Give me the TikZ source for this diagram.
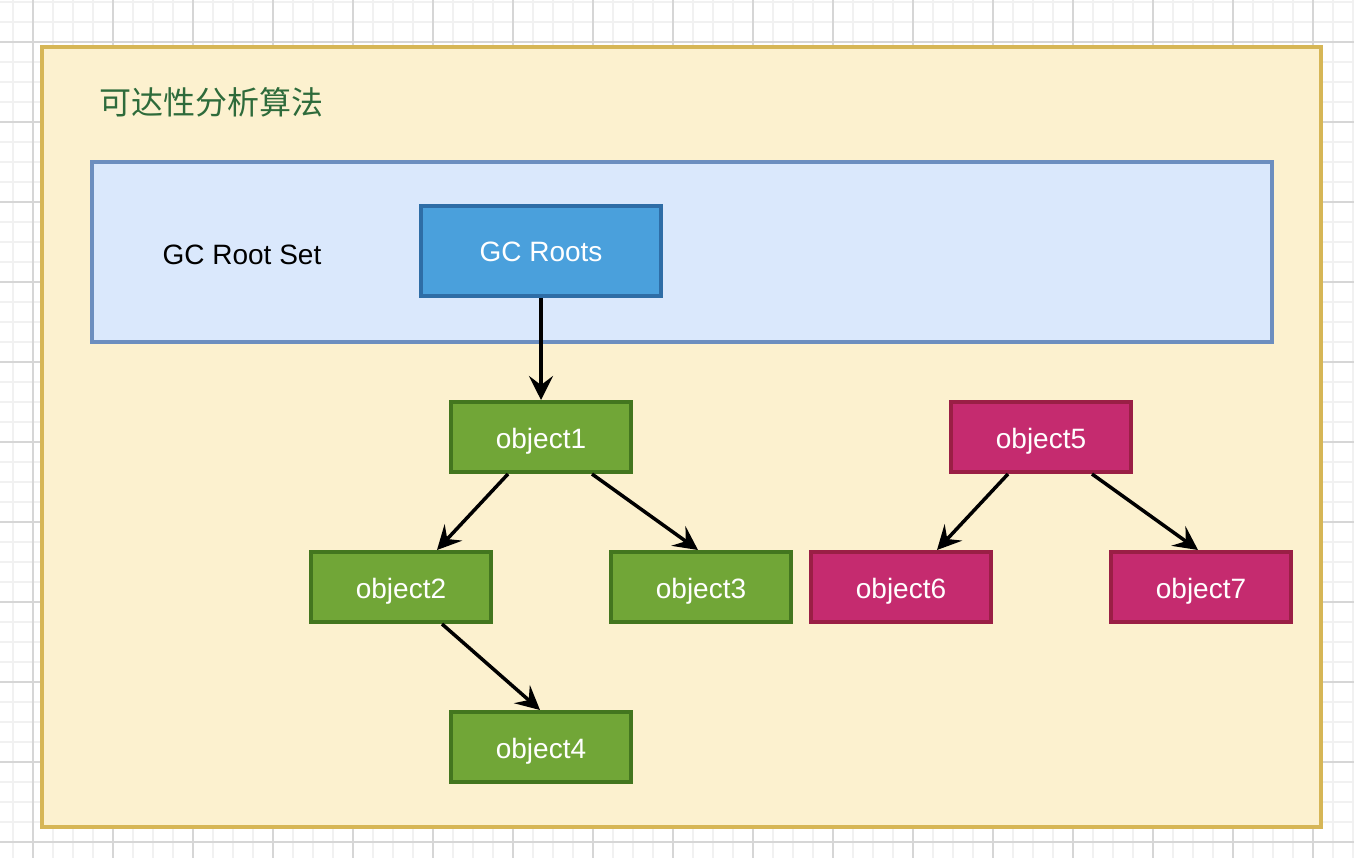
\documentclass[tikz,border=0pt]{standalone}
\usepackage{fontspec}
\setmainfont{Liberation Sans}
\newfontfamily\cjkfont{Noto Sans CJK SC}
\usetikzlibrary{arrows.meta,calc}

\definecolor{gridminor}{HTML}{F1F1F1}
\definecolor{gridmajor}{HTML}{D6D6D6}
\definecolor{framefill}{HTML}{FCF1CF}
\definecolor{framedraw}{HTML}{D6B656}
\definecolor{setfill}{HTML}{DAE8FC}
\definecolor{setdraw}{HTML}{6C8EBF}
\definecolor{rootfill}{HTML}{4AA0DC}
\definecolor{rootdraw}{HTML}{2E6DA6}
\definecolor{livefill}{HTML}{71A637}
\definecolor{livedraw}{HTML}{43761F}
\definecolor{deadfill}{HTML}{C52B6F}
\definecolor{deaddraw}{HTML}{9A1F45}
\definecolor{titlegreen}{HTML}{2E6B3B}

\begin{document}
\begin{tikzpicture}[x=1pt, y=-1pt, >={Stealth[length=24pt, width=24pt, inset=9pt]},
    objbox/.style={rectangle, draw, line width=4pt, minimum width=180pt, minimum height=70pt,
        inner sep=0pt, text=white, text height=22pt, text depth=0pt, font=\fontsize{28}{34}\selectfont},
    live/.style={objbox, fill=livefill, draw=livedraw},
    dead/.style={objbox, fill=deadfill, draw=deaddraw},
    edge/.style={->, line width=3.5pt}]
    \useasboundingbox (0,0) rectangle (1354,858);
    \fill[white] (0,0) rectangle (1354,858);

    % background grid
    \foreach \x in {13,33,...,1353} \draw[gridminor, line width=1.5pt] (\x,0) -- (\x,858);
    \foreach \y in {2,22,...,858} \draw[gridminor, line width=1.5pt] (0,\y) -- (1354,\y);
    \foreach \x in {33,113,...,1353} \draw[gridmajor, line width=1.2pt] (\x,0) -- (\x,858);
    \foreach \y in {42,122,...,858} \draw[gridmajor, line width=1.2pt] (0,\y) -- (1354,\y);

    % containers
    \node[draw=framedraw, fill=framefill, line width=4pt, minimum width=1279pt, minimum height=780pt,
        inner sep=0pt] (frame) at (681.5,437) {};
    \node[anchor=west, inner sep=0pt, text=titlegreen, font=\cjkfont\fontsize{32}{38}\selectfont]
        (title) at (99,102) {可达性分析算法};
    \node[draw=setdraw, fill=setfill, line width=3.5pt, minimum width=1180pt, minimum height=180pt,
        inner sep=0pt] (rootset) at (682,252) {};
    \node[font=\fontsize{28}{34}\selectfont, text height=22pt, text depth=0pt, inner sep=0pt]
        (setlabel) at (242,254) {GC Root Set};

    % objects
    \node[objbox, fill=rootfill, draw=rootdraw, minimum width=240pt, minimum height=90pt] (roots) at (541,251) {GC Roots};
    \node[live] (obj1) at (541,437) {object1};
    \node[live] (obj2) at (401,587) {object2};
    \node[live] (obj3) at (701,587) {object3};
    \node[live] (obj4) at (541,747) {object4};
    \node[dead] (obj5) at (1041,437) {object5};
    \node[dead] (obj6) at (901,587) {object6};
    \node[dead] (obj7) at (1201,587) {object7};

    % references
    \draw[edge] (roots) -- (obj1);
    \draw[edge] ($(obj1.south)+(-33,0)$) -- ($(obj2.north)+(36,0)$);
    \draw[edge] ($(obj1.south)+(51,0)$) -- ($(obj3.north)+(-3,0)$);
    \draw[edge] ($(obj2.south)+(41,0)$) -- ($(obj4.north)+(-1,0)$);
    \draw[edge] ($(obj5.south)+(-33,0)$) -- ($(obj6.north)+(36,0)$);
    \draw[edge] ($(obj5.south)+(51,0)$) -- ($(obj7.north)+(-3,0)$);
\end{tikzpicture}
\end{document}
